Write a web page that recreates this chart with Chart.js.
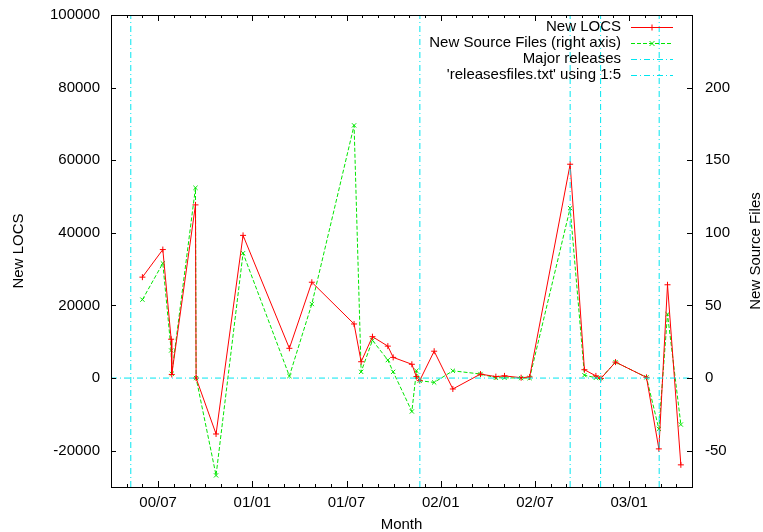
<!DOCTYPE html>
<html>
<head>
<meta charset="utf-8">
<script src="https://cdn.jsdelivr.net/npm/chart.js@4/dist/chart.umd.min.js"></script>
<style>
  body { margin: 0; background: #fff; }
  canvas { display: block; }
</style>
</head>
<body>
<canvas id="graf" width="763" height="532"></canvas>
<script>
// month index counted from 2000-01 (6 = 00/07, 12 = 01/01 ...)
const months = [5.0, 6.3, 6.83, 6.87, 8.38, 8.42, 9.69, 11.41, 14.36, 15.79, 18.48, 18.93, 19.65, 20.63, 20.97,
  22.16, 22.45, 22.66, 23.58, 24.77, 26.53, 27.51, 28.06, 29.12, 29.66, 32.24, 33.15, 33.88, 34.2, 35.13,
  37.1, 37.89, 38.44, 39.29]
const newLocs = [27800, 35400, 10700, 1000, 47700, 0, -15400, 39300, 8200, 26400, 14900, 4500, 11400, 8800, 5700,
  3800, 400, -700, 7400, -3000, 1100, 400, 600, 100, 300, 58900, 2300, 600, -100, 4400,
  200, -19500, 25700, -23900]
const newFiles = [54, 79, 19, 3, 131, 0, -67, 86, 1.4, 51, 174, 4.3, 26, 12.4, 4.3,
  -23, 5, -1.8, -3, 5, 2.8, 0.2, 0.2, 0, 0, 117, 2, 0.2, 0, 11,
  0.5, -35, 44, -32]
const releaseMonths = [4.26, 22.67, 32.24, 34.18, 37.91]

const xMin = 3, xMax = 40
const yMin = -30000, yMax = 100000
const y2Min = -75, y2Max = 250
const xTickMonths = [6, 12, 18, 24, 30, 36]
const xTickLabels = ['00/07', '01/01', '01/07', '02/01', '02/07', '03/01']
const leftTicks = [-20000, 0, 20000, 40000, 60000, 80000, 100000]
const rightTicks = [-50, 0, 50, 100, 150, 200]

const legendNames = ['New LOCS', 'New Source Files (right axis)', 'Major releases', "'releasesfiles.txt' using 1:5"]

const red = '#ff0000'
const green = 'rgb(0,230,0)'
const cyan = 'rgb(0,230,240)'
const dashDot = [6, 3, 1, 3]

let releaseLines = []
releaseMonths.forEach(m => {
  releaseLines.push({x: m, y: yMin}, {x: m, y: yMax}, {x: m, y: null})
})

Chart.defaults.font.family = "'Liberation Sans', Arial, sans-serif"
Chart.defaults.font.size = 15
Chart.defaults.color = '#000'

function noPad(s) {
  s.paddingTop = 0
  s.paddingBottom = 0
  s.paddingLeft = 0
  s.paddingRight = 0
}

const frame = {
  id: 'frame',
  afterDraw(chart) {
    const ctx = chart.ctx
    const a = chart.chartArea
    const sx = chart.scales.x, sy = chart.scales.y, sy2 = chart.scales.y2
    ctx.save()
    ctx.strokeStyle = '#000'
    ctx.lineWidth = 1
    ctx.strokeRect(Math.round(a.left) + 0.5, Math.round(a.top) + 0.5, Math.round(a.right - a.left), Math.round(a.bottom - a.top))
    ctx.beginPath()
    for (let m = xMin + 1; m < xMax; m++) {
      const px = Math.round(sx.getPixelForValue(m)) + 0.5
      const len = xTickMonths.includes(m) ? 6 : 3
      ctx.moveTo(px, a.bottom); ctx.lineTo(px, a.bottom - len)
      ctx.moveTo(px, a.top); ctx.lineTo(px, a.top + len)
    }
    leftTicks.forEach(v => {
      const py = Math.round(sy.getPixelForValue(v)) + 0.5
      ctx.moveTo(a.left, py); ctx.lineTo(a.left + 5, py)
    })
    rightTicks.forEach(v => {
      const py = Math.round(sy2.getPixelForValue(v)) + 0.5
      ctx.moveTo(a.right, py); ctx.lineTo(a.right - 5, py)
    })
    ctx.stroke()
    ctx.restore()

    // right axis title, reading upwards like the left one
    ctx.save()
    ctx.fillStyle = '#000'
    ctx.font = "15px 'Liberation Sans', Arial, sans-serif"
    ctx.translate(756, (a.top + a.bottom) / 2)
    ctx.rotate(-Math.PI / 2)
    ctx.textAlign = 'center'
    ctx.textBaseline = 'middle'
    ctx.fillText('New Source Files', 0, 0)
    ctx.restore()

    // key in the top right corner
    const colors = [red, green, cyan, cyan]
    const dashes = [[], [4, 2], dashDot, dashDot]
    for (let i = 0; i < legendNames.length; i++) {
      const y = a.top + 12 + i * 16
      ctx.save()
      ctx.font = "15px 'Liberation Sans', Arial, sans-serif"
      ctx.textAlign = 'right'
      ctx.textBaseline = 'middle'
      ctx.fillStyle = '#000'
      ctx.fillText(legendNames[i], 621, y)
      ctx.strokeStyle = colors[i]
      ctx.lineWidth = 1
      ctx.setLineDash(dashes[i])
      ctx.beginPath()
      ctx.moveTo(631, y + 0.5)
      ctx.lineTo(673, y + 0.5)
      ctx.stroke()
      ctx.setLineDash([])
      ctx.beginPath()
      if (i == 0) {
        ctx.moveTo(649, y + 0.5); ctx.lineTo(655, y + 0.5)
        ctx.moveTo(652, y - 2.5); ctx.lineTo(652, y + 3.5)
      } else if (i == 1) {
        ctx.moveTo(649.5, y - 2); ctx.lineTo(654.5, y + 3)
        ctx.moveTo(654.5, y - 2); ctx.lineTo(649.5, y + 3)
      }
      ctx.stroke()
      ctx.restore()
    }
  }
}

new Chart(document.getElementById('graf'), {
  type: 'line',
  data: {
    datasets: [
      {
        label: legendNames[3],
        data: [{x: xMin, y: 0}, {x: xMax, y: 0}],
        borderColor: cyan,
        borderWidth: 1,
        borderDash: dashDot,
        pointRadius: 0,
        yAxisID: 'y',
        order: 0
      },
      {
        label: legendNames[2],
        data: releaseLines,
        borderColor: cyan,
        borderWidth: 1,
        borderDash: dashDot,
        pointRadius: 0,
        spanGaps: false,
        yAxisID: 'y',
        order: 1
      },
      {
        label: legendNames[1],
        data: months.map((m, i) => ({x: m, y: newFiles[i]})),
        borderColor: green,
        borderWidth: 1,
        borderDash: [4, 2],
        pointStyle: 'crossRot',
        pointRadius: 3,
        pointBorderWidth: 1,
        pointBorderColor: green,
        yAxisID: 'y2',
        order: 3
      },
      {
        label: legendNames[0],
        data: months.map((m, i) => ({x: m, y: newLocs[i]})),
        borderColor: red,
        borderWidth: 1,
        pointStyle: 'cross',
        pointRadius: 3,
        pointBorderWidth: 1,
        pointBorderColor: red,
        yAxisID: 'y',
        order: 2
      }
    ]
  },
  options: {
    responsive: false,
    animation: false,
    layout: {padding: {top: 15, left: 0, right: 0, bottom: 0}},
    elements: {line: {tension: 0}},
    plugins: {legend: {display: false}, tooltip: {enabled: false}},
    scales: {
      x: {
        type: 'linear',
        min: xMin,
        max: xMax,
        grid: {display: false, drawTicks: false, tickLength: 0},
        border: {display: false},
        afterBuildTicks: s => { s.ticks = xTickMonths.map(v => ({value: v})) },
        afterFit: s => { s.height = 45; noPad(s) },
        ticks: {
          padding: 7,
          maxRotation: 0,
          autoSkip: false,
          callback: v => xTickLabels[xTickMonths.indexOf(v)]
        },
        title: {display: true, text: 'Month', font: {size: 15, lineHeight: 1}, padding: {top: 0, bottom: 0}}
      },
      y: {
        position: 'left',
        min: yMin,
        max: yMax,
        grid: {display: false, drawTicks: false, tickLength: 0},
        border: {display: false},
        afterBuildTicks: s => { s.ticks = leftTicks.map(v => ({value: v})) },
        afterFit: s => { s.width = 111; noPad(s) },
        ticks: {padding: 11, callback: v => String(v)},
        title: {display: true, text: 'New LOCS', font: {size: 15}, padding: {top: 10, bottom: 0}}
      },
      y2: {
        position: 'right',
        min: y2Min,
        max: y2Max,
        grid: {display: false, drawTicks: false, tickLength: 0},
        border: {display: false},
        afterBuildTicks: s => { s.ticks = rightTicks.map(v => ({value: v})) },
        afterFit: s => { s.width = 71; noPad(s) },
        ticks: {padding: 13, callback: v => String(v)}
      }
    }
  },
  plugins: [frame]
})
</script>
</body>
</html>
